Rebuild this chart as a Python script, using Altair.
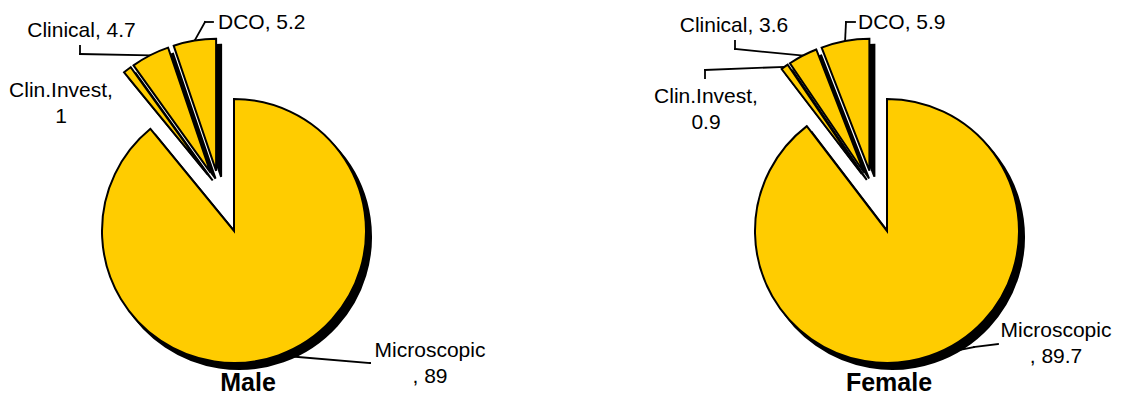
import math
import pandas as pd
import altair as alt

# ---------------- data ----------------
categories = ["Microscopic", "Clin.Invest", "Clinical", "DCO"]
male_values = [89, 1, 4.7, 5.2]
female_values = [89.7, 0.9, 3.6, 5.9]
panels = ["Male", "Female"]

# ---------------- layout / style ----------------
W, H = 1107, 390
R = 132
CENTER = {"Male": (226, 223), "Female": (879, 223)}
EXPLODED = [0, 1, 1, 1]          # which slices are pulled out
EXPLODE_GROUP = 44               # px, along mid-angle of exploded group
EXPLODE_OWN = 19                 # px, along each slice's own mid-angle
FILL = "#FFCC00"
FONT = "Arial"
LABEL_SIZE = 21
TITLE_SIZE = 25

# label placement: (x, baseline y, align, wrap style)
LABEL_POS = {
    ("Male", "Microscopic"): (422, 349, "center", 2),
    ("Male", "Clin.Invest"): (53, 88.7, "center", 1),
    ("Male", "Clinical"): (73.5, 29, "center", 0),
    ("Male", "DCO"): (210, 21, "left", 0),
    ("Female", "Microscopic"): (1048, 329, "center", 2),
    ("Female", "Clin.Invest"): (698, 94.7, "center", 1),
    ("Female", "Clinical"): (726, 24, "center", 0),
    ("Female", "DCO"): (850, 21, "left", 0),
}
# leader lines: label end (x0, y0) -> elbow (x1, y1) -> slice edge (computed)
LEADERS = {
    ("Male", "DCO"): (205, 14, 197, 14),
    ("Male", "Clinical"): (72, 38, 72, 46),
    ("Male", "Microscopic"): (362, 355, 362, 355),
    ("Female", "DCO"): (847, 14, 838, 14),
    ("Female", "Clinical"): (727, 33, 727, 41),
    ("Female", "Clin.Invest"): (697, 70, 697, 62),
    ("Female", "Microscopic"): (990, 336, 966, 339),
}
TITLE_POS = {"Male": (240, 383), "Female": (881, 383)}

# ---------------- tables ----------------
values = {"Male": male_values, "Female": female_values}
rows = []
for p in panels:
    for i, (c, v) in enumerate(zip(categories, values[p])):
        rows.append(dict(panel=p, category=c, value=v, order=i, ex=EXPLODED[i],
                         key=f"{p}|{c}", x0=CENTER[p][0], y0=CENTER[p][1]))
slices = pd.DataFrame(rows)

lab_rows = []
for p in panels:
    for c, v in zip(categories, values[p]):
        x, y, al, wrap = LABEL_POS[(p, c)]
        if wrap == 0:
            t = f"{c}, {v:g}"
        elif wrap == 1:
            t = f"{c},\n{v:g}"
        else:
            t = f"{c}\n, {v:g}"
        lab_rows.append(dict(text=t, x=x, y=y, align=al))
labels = pd.DataFrame(lab_rows)

leaders = pd.DataFrame([dict(key=f"{p}|{c}", lx0=a, ly0=b, lx1=cc, ly1=d)
                        for (p, c), (a, b, cc, d) in LEADERS.items()])
titles = pd.DataFrame([dict(text=p, x=TITLE_POS[p][0], y=TITLE_POS[p][1]) for p in panels])

# ---------------- scales ----------------
XS = alt.Scale(domain=[0, W], nice=False, zero=False)
YS = alt.Scale(domain=[H, 0], nice=False, zero=False)
TS = alt.Scale(domain=[0, 1], range=[0, 2 * math.pi])

base = (
    alt.Chart(slices)
    .transform_joinaggregate(total="sum(value)", groupby=["panel"])
    .transform_window(cum="sum(value)", sort=[alt.SortField("order", order="ascending")],
                      groupby=["panel"], frame=[None, 0])
    .transform_calculate(
        t1="datum.cum / datum.total",
        t0="(datum.cum - datum.value) / datum.total",
    )
    .transform_calculate(
        mid="PI * (datum.t0 + datum.t1)",
        gs="datum.ex ? datum.t0 : 1",
    )
    .transform_joinaggregate(g0="min(gs)", groupby=["panel"])
    .transform_calculate(gmid="PI * (datum.g0 + 1)")
    .transform_calculate(
        cx=f"datum.x0 + datum.ex * ({EXPLODE_GROUP} * sin(datum.gmid) + {EXPLODE_OWN} * sin(datum.mid))",
        cy=f"datum.y0 - datum.ex * ({EXPLODE_GROUP} * cos(datum.gmid) + {EXPLODE_OWN} * cos(datum.mid))",
    )
    .transform_calculate(
        px=f"datum.cx + {R} * sin(datum.mid)",
        py=f"datum.cy - {R} * cos(datum.mid)",
    )
)

arc_enc = dict(
    x=alt.X("cx:Q", scale=XS, axis=None),
    y=alt.Y("cy:Q", scale=YS, axis=None),
    theta=alt.Theta("t0:Q", scale=TS, stack=None),
    theta2=alt.Theta2("t1:Q"),
)

shadow = base.mark_arc(outerRadius=R, fill="black", stroke="black", strokeWidth=2,
                       xOffset=5, yOffset=6).encode(**arc_enc)
pie = base.mark_arc(outerRadius=R, fill=FILL, stroke="black", strokeWidth=2).encode(**arc_enc)

leader_b = (
    base.transform_lookup(lookup="key", from_=alt.LookupData(leaders, "key", ["lx1", "ly1"]))
    .transform_filter("isValid(datum.lx1)")
    .mark_rule(color="black", strokeWidth=1.8, strokeCap="square")
    .encode(x=alt.X("lx1:Q", scale=XS, axis=None), y=alt.Y("ly1:Q", scale=YS, axis=None),
            x2="px:Q", y2="py:Q")
)
leader_a = (
    alt.Chart(leaders)
    .mark_rule(color="black", strokeWidth=1.8, strokeCap="square")
    .encode(x=alt.X("lx0:Q", scale=XS, axis=None), y=alt.Y("ly0:Q", scale=YS, axis=None),
            x2="lx1:Q", y2="ly1:Q")
)

def text_layer(align):
    return (
        alt.Chart(labels)
        .transform_filter(alt.datum.align == align)
        .mark_text(font=FONT, fontSize=LABEL_SIZE, color="black", align=align,
                   baseline="alphabetic", lineBreak="\n", lineHeight=26)
        .encode(x=alt.X("x:Q", scale=XS, axis=None), y=alt.Y("y:Q", scale=YS, axis=None),
                text="text:N")
    )

title_layer = (
    alt.Chart(titles)
    .mark_text(font=FONT, fontSize=TITLE_SIZE, fontWeight="bold", color="black",
               align="center", baseline="alphabetic")
    .encode(x=alt.X("x:Q", scale=XS, axis=None), y=alt.Y("y:Q", scale=YS, axis=None),
            text="text:N")
)

chart = (
    alt.layer(leader_b, leader_a, shadow, pie, text_layer("center"), text_layer("left"), title_layer)
    .properties(width=W, height=H, padding=0, autosize=alt.AutoSizeParams(type="none"),
                background="white")
    .configure_view(strokeWidth=0)
)

chart.save("out.html", embed_options={"renderer": "svg", "actions": False})
